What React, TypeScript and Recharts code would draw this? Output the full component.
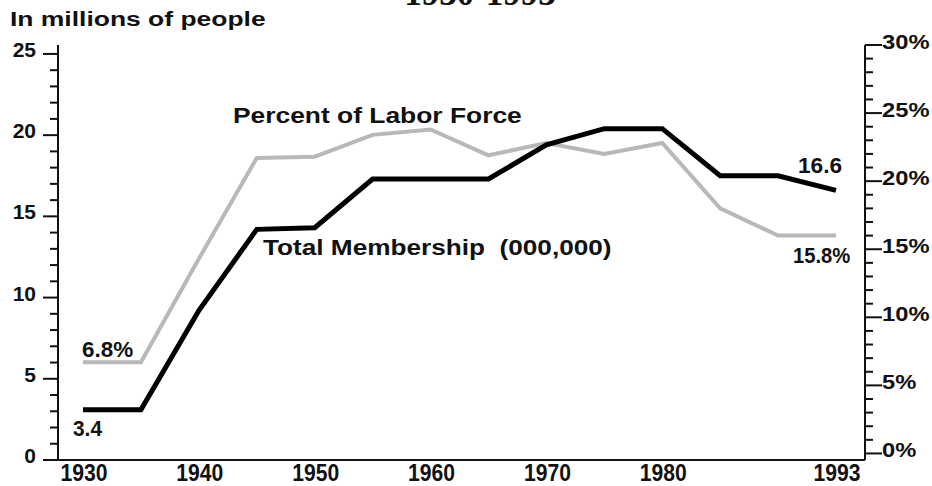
import { LineChart, Line, XAxis, YAxis, LabelList } from "recharts";

const YEARS = ["1930", "1935", "1940", "1945", "1950", "1955", "1960", "1965", "1970", "1975", "1980", "1985", "1990", "1993"];
const MEMBERSHIP = [3.1, 3.1, 9.2, 14.2, 14.3, 17.3, 17.3, 17.3, 19.4, 20.4, 20.4, 17.5, 17.5, 16.6];
const PERCENT = [6.7, 6.7, 14.3, 21.7, 21.8, 23.4, 23.8, 21.9, 22.8, 22.0, 22.8, 18.0, 16.0, 16.0];
const LABEL_YEARS = ["1930", "1940", "1950", "1960", "1970", "1980", "1993"];
const LEFT_TICKS = Array.from({ length: 26 }, (_, i) => i);
const RIGHT_TICKS = Array.from({ length: 31 }, (_, i) => i);
const MEMBER_NOTES = ["3.4", "16.6"];
const PERCENT_NOTES = ["6.8%", "15.8%"];

const SANS = "'Liberation Sans', Arial, Helvetica, sans-serif";
const SERIF = "'Liberation Serif', 'Times New Roman', serif";

const data = YEARS.map((year, i) => ({ year, members: MEMBERSHIP[i], percent: PERCENT[i] }));

function Txt({ x, y, size = 22, sx = 1, anchor = "start", family = SANS, children }: any) {
  return (
    <text
      transform={`translate(${x},${y}) scale(${sx},1)`}
      textAnchor={anchor}
      fontSize={size}
      fontWeight={700}
      fontFamily={family}
      fill="#111"
      style={{ whiteSpace: "pre" }}
    >
      {children}
    </text>
  );
}

const LeftTick = (props: any) => {
  const { x, y, payload } = props;
  const major = payload.value % 5 === 0;
  return (
    <g>
      <line x1={x - (major ? 15 : 8)} x2={x} y1={y} y2={y} stroke="#111" strokeWidth={2} />
      {major && (
        <Txt x={x - 22} y={y + 3} size={21} anchor="end">
          {payload.value}
        </Txt>
      )}
    </g>
  );
};

const RightTick = (props: any) => {
  const { x, y, payload } = props;
  const major = payload.value % 5 === 0;
  return (
    <g>
      <line x1={x} x2={x + (major ? 17 : 8)} y1={y} y2={y} stroke="#111" strokeWidth={2} />
      {major && (
        <Txt x={x + 17} y={y + 4} size={21} sx={1.13}>
          {payload.value}%
        </Txt>
      )}
    </g>
  );
};

const BottomTick = (props: any) => {
  const { x, y, payload } = props;
  if (!LABEL_YEARS.includes(payload.value)) return null;
  return (
    <Txt x={x + 1} y={y + 21} size={24} sx={0.88} anchor="middle">
      {payload.value}
    </Txt>
  );
};

const memberNote = (props: any) => {
  const { x, y, index } = props;
  if (index === 0) return <Txt x={x - 10} y={y + 26} sx={0.95}>{MEMBER_NOTES[0]}</Txt>;
  if (index === YEARS.length - 1) return <Txt x={x - 38} y={y - 17} sx={1.03}>{MEMBER_NOTES[1]}</Txt>;
  return null;
};

const percentNote = (props: any) => {
  const { x, y, index } = props;
  if (index === 0) return <Txt x={x - 1} y={y - 5} sx={1.02}>{PERCENT_NOTES[0]}</Txt>;
  if (index === YEARS.length - 1) return <Txt x={x - 43} y={y + 27} sx={0.92}>{PERCENT_NOTES[1]}</Txt>;
  return null;
};

export default function App() {
  return (
    <div style={{ position: "absolute", left: 0, top: 0, width: 932, height: 486, background: "#fff" }}>
      <LineChart width={932} height={486} data={data} margin={{ top: 45, right: 0, bottom: 0, left: 0 }}>
        <XAxis
          dataKey="year"
          height={26}
          interval={0}
          padding={{ left: 25, right: 29 }}
          tickLine={false}
          tickSize={0}
          tickMargin={0}
          axisLine={{ stroke: "#111", strokeWidth: 2 }}
          tick={<BottomTick />}
        />
        <YAxis
          yAxisId="left"
          width={58}
          type="number"
          domain={[0, 25.55]}
          ticks={LEFT_TICKS}
          interval={0}
          tickLine={false}
          tickSize={0}
          tickMargin={0}
          axisLine={{ stroke: "#111", strokeWidth: 2 }}
          tick={<LeftTick />}
        />
        <YAxis
          yAxisId="right"
          orientation="right"
          width={67}
          type="number"
          domain={[-0.48, 30]}
          ticks={RIGHT_TICKS}
          interval={0}
          tickLine={false}
          tickSize={0}
          tickMargin={0}
          axisLine={{ stroke: "#111", strokeWidth: 2 }}
          tick={<RightTick />}
        />
        <Line
          yAxisId="right"
          dataKey="percent"
          type="linear"
          stroke="#b8b8b8"
          strokeWidth={4}
          dot={false}
          isAnimationActive={false}
        >
          <LabelList dataKey="percent" content={percentNote} />
        </Line>
        <Line
          yAxisId="left"
          dataKey="members"
          type="linear"
          stroke="#000"
          strokeWidth={5}
          dot={false}
          isAnimationActive={false}
        >
          <LabelList dataKey="members" content={memberNote} />
        </Line>
      </LineChart>
      <svg
        width={932}
        height={486}
        style={{ position: "absolute", left: 0, top: 0, pointerEvents: "none" }}
      >
        <line x1={43} x2={58} y1={460} y2={460} stroke="#111" strokeWidth={2} />
        <Txt x={480} y={5} size={35} anchor="middle" family={SERIF}>
          1930-1993
        </Txt>
        <Txt x={10} y={26} size={21} sx={1.26}>
          In millions of people
        </Txt>
        <Txt x={233} y={123} size={22} sx={1.2}>
          Percent of Labor Force
        </Txt>
        <Txt x={263} y={255} size={22} sx={1.19}>
          Total Membership  (000,000)
        </Txt>
      </svg>
    </div>
  );
}
